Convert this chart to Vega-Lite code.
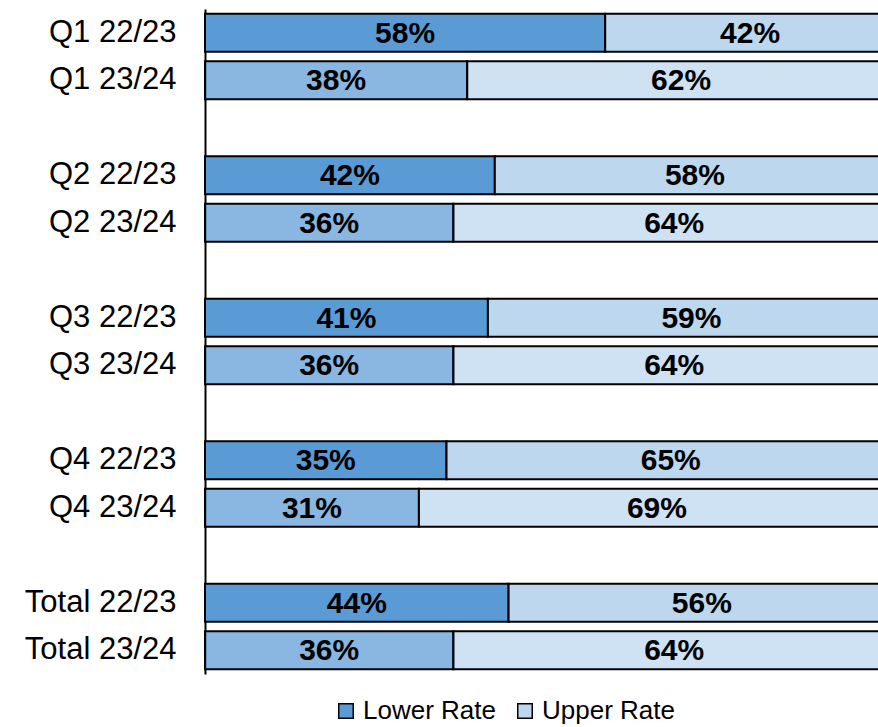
{
  "$schema": "https://vega.github.io/schema/vega-lite/v6.json",
  "autosize": {"type": "none"},
  "width": 690,
  "height": 665,
  "padding": {"left": 205, "top": 9, "right": 0, "bottom": 53},
  "background": "white",
  "config": {"view": {"stroke": null}, "font": "Liberation Sans"},
  "data": {
    "values": [
      {"cat": "Q1 22/23", "year": "22/23", "rate": "Lower Rate", "value": 0.58},
      {"cat": "Q1 22/23", "year": "22/23", "rate": "Upper Rate", "value": 0.42},
      {"cat": "Q1 23/24", "year": "23/24", "rate": "Lower Rate", "value": 0.38},
      {"cat": "Q1 23/24", "year": "23/24", "rate": "Upper Rate", "value": 0.62},
      {"cat": "Q2 22/23", "year": "22/23", "rate": "Lower Rate", "value": 0.42},
      {"cat": "Q2 22/23", "year": "22/23", "rate": "Upper Rate", "value": 0.58},
      {"cat": "Q2 23/24", "year": "23/24", "rate": "Lower Rate", "value": 0.36},
      {"cat": "Q2 23/24", "year": "23/24", "rate": "Upper Rate", "value": 0.64},
      {"cat": "Q3 22/23", "year": "22/23", "rate": "Lower Rate", "value": 0.41},
      {"cat": "Q3 22/23", "year": "22/23", "rate": "Upper Rate", "value": 0.59},
      {"cat": "Q3 23/24", "year": "23/24", "rate": "Lower Rate", "value": 0.36},
      {"cat": "Q3 23/24", "year": "23/24", "rate": "Upper Rate", "value": 0.64},
      {"cat": "Q4 22/23", "year": "22/23", "rate": "Lower Rate", "value": 0.35},
      {"cat": "Q4 22/23", "year": "22/23", "rate": "Upper Rate", "value": 0.65},
      {"cat": "Q4 23/24", "year": "23/24", "rate": "Lower Rate", "value": 0.31},
      {"cat": "Q4 23/24", "year": "23/24", "rate": "Upper Rate", "value": 0.69},
      {"cat": "Total 22/23", "year": "22/23", "rate": "Lower Rate", "value": 0.44},
      {"cat": "Total 22/23", "year": "22/23", "rate": "Upper Rate", "value": 0.56},
      {"cat": "Total 23/24", "year": "23/24", "rate": "Lower Rate", "value": 0.36},
      {"cat": "Total 23/24", "year": "23/24", "rate": "Upper Rate", "value": 0.64}
    ]
  },
  "transform": [
    {"stack": "value", "groupby": ["cat"], "sort": [{"field": "rate", "order": "ascending"}], "as": ["x0", "x1"]},
    {"calculate": "(datum.x0 + datum.x1) / 2", "as": "xmid"}
  ],
  "encoding": {
    "y": {
      "field": "cat",
      "type": "nominal",
      "title": null,
      "scale": {
        "domain": ["Q1 22/23", "Q1 23/24", "g1", "Q2 22/23", "Q2 23/24", "g2", "Q3 22/23", "Q3 23/24", "g3", "Q4 22/23", "Q4 23/24", "g4", "Total 22/23", "Total 23/24"],
        "paddingInner": 0.2,
        "paddingOuter": 0.1
      },
      "axis": {
        "labelExpr": "indexof(datum.value, 'g') == 0 ? '' : datum.value",
        "labelFont": "Liberation Sans",
        "labelFontSize": 31,
        "labelColor": "black",
        "labelPadding": 29,
        "ticks": false,
        "domainColor": "black",
        "domainWidth": 2,
        "grid": false
      }
    }
  },
  "layer": [
    {
      "mark": {"type": "bar", "stroke": "black", "strokeWidth": 2},
      "encoding": {
        "x": {"field": "x0", "type": "quantitative", "scale": {"domain": [0, 1]}, "axis": null},
        "x2": {"field": "x1"},
        "color": {
          "field": "rate",
          "type": "nominal",
          "scale": {"domain": ["Lower Rate", "Upper Rate"], "range": ["#5b9bd5", "#bdd7ee"]},
          "legend": {
            "title": null,
            "orient": "none",
            "legendX": 128,
            "legendY": 689,
            "direction": "horizontal",
            "symbolType": "square",
            "symbolSize": 210,
            "symbolStrokeColor": "black",
            "symbolStrokeWidth": 1.5,
            "symbolOpacity": 1,
            "labelFont": "Liberation Sans",
            "labelFontSize": 26,
            "labelColor": "black",
            "labelOffset": 4,
            "columnPadding": 16
          }
        },
        "fillOpacity": {
          "field": "year",
          "type": "nominal",
          "scale": {"domain": ["22/23", "23/24"], "range": [1, 0.72]},
          "legend": null
        }
      }
    },
    {
      "mark": {"type": "text", "fontSize": 30, "fontWeight": "bold", "color": "black", "font": "Liberation Sans", "baseline": "middle", "align": "center", "dy": 1},
      "encoding": {
        "x": {"field": "xmid", "type": "quantitative"},
        "text": {"field": "value", "type": "quantitative", "format": ".0%"}
      }
    }
  ]
}
